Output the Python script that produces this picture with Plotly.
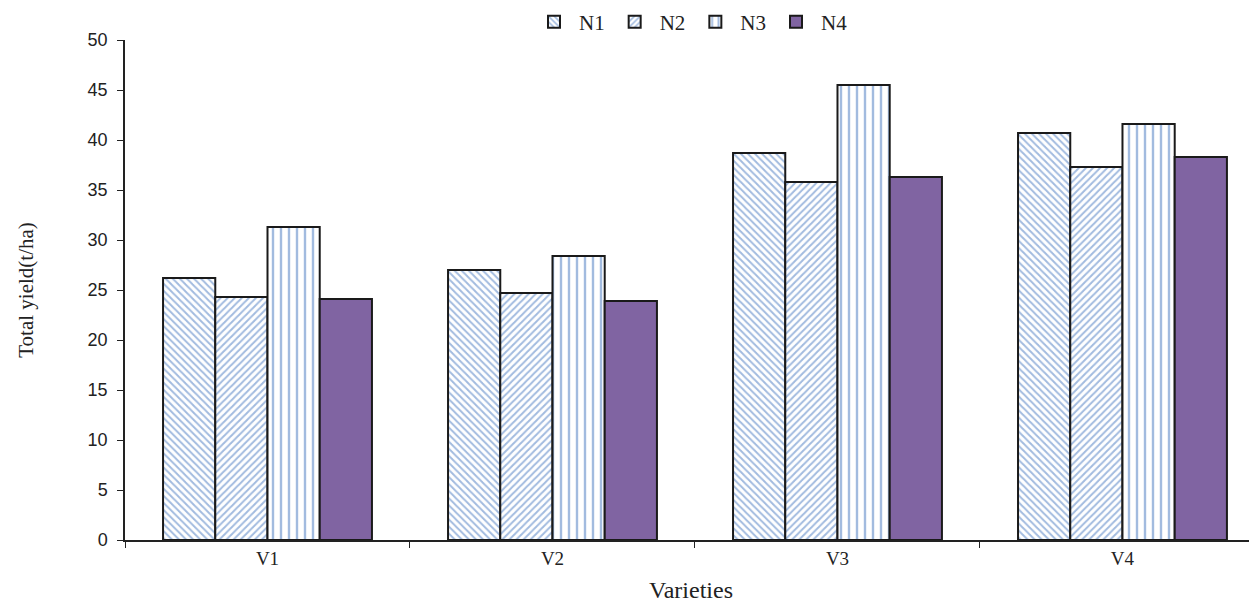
import plotly.graph_objects as go

categories = ["V1", "V2", "V3", "V4"]
series_names = ["N1", "N2", "N3", "N4"]
n1 = [26.2, 27.0, 38.7, 40.7]
n2 = [24.3, 24.7, 35.8, 37.3]
n3 = [31.3, 28.4, 45.5, 41.6]
n4 = [24.1, 23.9, 36.3, 38.3]
y_ticks = [0, 5, 10, 15, 20, 25, 30, 35, 40, 45, 50]

blue = "#4577C0"
purple = "#8064A2"
styles = [
    dict(shape="\\", fg=blue, size=5, sol=0.4),
    dict(shape="/", fg=blue, size=5, sol=0.4),
    dict(shape="|", fg=blue, size=8, sol=0.3),
    dict(shape="", fg=None, size=0, sol=0),
]

fig = go.Figure()
for name, vals, st in zip(series_names, [n1, n2, n3, n4], styles):
    if st["shape"]:
        marker = dict(color="white",
                      pattern=dict(shape=st["shape"], fgcolor=st["fg"], bgcolor="white",
                                   size=st["size"], solidity=st["sol"], fillmode="overlay"),
                      line=dict(color="#1a1a1a", width=2))
    else:
        marker = dict(color=purple, line=dict(color="#1a1a1a", width=2))
    fig.add_trace(go.Bar(x=categories, y=vals, name=name, marker=marker))

fig.update_layout(
    width=1249, height=599,
    barmode="group", bargap=0.267, bargroupgap=0,
    plot_bgcolor="white", paper_bgcolor="white",
    margin=dict(l=117, r=0, t=32, b=67, autoexpand=False),
    font=dict(family="Liberation Serif", size=19, color="#222222"),
    legend=dict(orientation="h", x=0.5, xanchor="center", y=1.036, yanchor="middle",
                font=dict(size=21), itemwidth=40, tracegroupgap=0),
    xaxis=dict(range=[-0.5, 3.472], showline=True, linecolor="#222222", linewidth=1.5,
               ticks="outside", tickson="boundaries", ticklen=6, tickcolor="#222222",
               tickfont=dict(size=19),
               title=dict(text="Varieties", font=dict(size=24), standoff=14)),
    yaxis=dict(range=[0, 50], tickvals=y_ticks, showline=True, linecolor="#222222",
               linewidth=1.5, ticks="outside", ticklen=6, tickcolor="#222222",
               ticklabelstandoff=6,
               showgrid=False, zeroline=False,
               tickfont=dict(family="Liberation Sans", size=18),
               title=dict(text="Total yield(t/ha)", font=dict(size=21), standoff=48)),
)

fig.write_html("out.html")
